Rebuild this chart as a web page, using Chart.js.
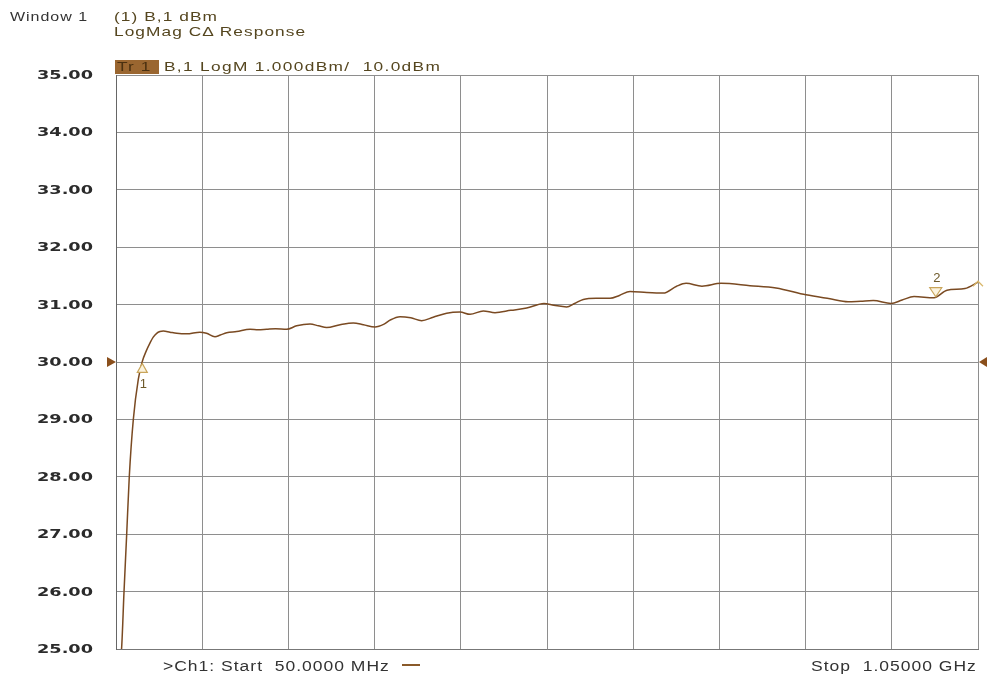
<!DOCTYPE html>
<html>
<head>
<meta charset="utf-8">
<script src="https://cdn.jsdelivr.net/npm/chart.js@4.4.1/dist/chart.umd.min.js"></script>
<style>
  body { margin: 0; background: #fff; }
  #wrap { position: relative; width: 987px; height: 677px; overflow: hidden; }
  .txt { position: absolute; font-family: "Liberation Sans", Arial, sans-serif; font-size: 13px; white-space: pre;
         letter-spacing: 0.8px; transform-origin: 0 0; transform: scaleX(1.33); }
  .hdr { color: #55461f; }
  .trbox { position: absolute; left: 115px; top: 60px; width: 44px; height: 14px; background: #9a6630; }
  .bot { font-size: 14px; color: #333; transform: scaleX(1.25); }
</style>
</head>
<body>
<div id="wrap">
  <canvas id="chart" width="987" height="677"></canvas>
  <div class="txt" style="left:10px; top:9px; color:#333; transform:scaleX(1.23);">Window 1</div>
  <div class="txt hdr" style="left:114px; top:9px;">(1) B,1 dBm</div>
  <div class="txt hdr" style="left:114px; top:24px;">LogMag CΔ Response</div>
  <div class="trbox"></div>
  <div class="txt" style="left:117px; top:59px; color:#4a3010;">Tr 1</div>
  <div class="txt hdr" style="left:164px; top:59px; letter-spacing:1px;">B,1 LogM 1.000dBm/  10.0dBm</div>
  <div class="txt bot" style="left:163px; top:658px;">&gt;Ch1: Start  50.0000 MHz</div>
  <div style="position:absolute; left:402px; top:664px; width:18px; height:2px; background:#8a5a2a;"></div>
  <div class="txt bot" style="left:811px; top:658px;">Stop  1.05000 GHz</div>
</div>
<script>
// trace readings (MHz / dBm)
const freqMHz = [54, 56.6, 59.3, 62.4, 65.4, 70.1, 75.9, 80.5, 85, 89.4, 93, 97.2, 101, 104.9,
  112.6, 120.4, 132, 147.4, 155, 164.8, 171, 178.4, 190, 205.5, 215, 224.8, 235, 248, 259.6,
  275.1, 285, 294.4, 310, 325.3, 337, 350.5, 361, 367.9, 379.5, 392, 404.6, 418, 433.6, 449.1,
  460.7, 476.1, 489.7, 508, 526.4, 546.5, 558, 572.8, 582, 592.1, 607, 623.1, 634, 646.3, 665.7,
  684.9, 700.4, 711.3, 729.8, 751.9, 785.5, 815.7, 850.5, 878.3, 899.2, 914, 928.5, 949.1, 962,
  975.8, 999, 1014, 1034.9, 1050];
const levelDbm = [24.7, 25.04, 26.0, 27.0, 28.0, 29.0, 29.7, 30.01, 30.19, 30.33, 30.43, 30.5, 30.53, 30.54,
  30.52, 30.5, 30.49, 30.52, 30.5, 30.44, 30.47, 30.51, 30.53, 30.57, 30.56, 30.57, 30.58, 30.57, 30.63,
  30.66, 30.63, 30.6, 30.65, 30.68, 30.65, 30.61, 30.66, 30.73, 30.79, 30.77, 30.72, 30.78, 30.85, 30.87,
  30.83, 30.89, 30.86, 30.9, 30.94, 31.02, 30.99, 30.96, 31.02, 31.09, 31.11, 31.11, 31.16, 31.23, 31.21,
  31.2, 31.32, 31.37, 31.32, 31.37, 31.33, 31.29, 31.17, 31.1, 31.05, 31.06, 31.07, 31.02, 31.08,
  31.14, 31.12, 31.25, 31.28, 31.39];

const yTicks = [25, 26, 27, 28, 29, 30, 31, 32, 33, 34, 35];
const freqGridMHz = [50, 150, 250, 350, 450, 550, 650, 750, 850, 950, 1050];
const refLevelDbm = 30;

const markerNames = ['1', '2'];
const markerFreqMHz = [80.5, 1001];
const markerLevelDbm = [30.01, 31.12];
const markerUp = [true, false];

const traceColor = '#7a4a22';
const gridColor = '#8e8e8e';

const overlay = {
  id: 'overlay',
  afterDraw(chart) {
    const ctx = chart.ctx;
    const xs = chart.scales.x, ys = chart.scales.y;
    const area = chart.chartArea;
    ctx.save();

    // y labels, stretched like the analyzer font
    ctx.font = 'bold 11.5px "DejaVu Sans", sans-serif';
    ctx.fillStyle = '#2b2b2b';
    ctx.textAlign = 'right';
    ctx.textBaseline = 'middle';
    yTicks.forEach(v => {
      ctx.save();
      ctx.translate(93, ys.getPixelForValue(v) + 1);
      ctx.scale(1.54, 1);
      ctx.fillText(v.toFixed(2), 0, 0);
      ctx.restore();
    });

    // reference level arrows
    const ry = ys.getPixelForValue(refLevelDbm);
    ctx.fillStyle = '#8a4f1c';
    ctx.beginPath();
    ctx.moveTo(area.left - 9, ry - 5); ctx.lineTo(area.left, ry); ctx.lineTo(area.left - 9, ry + 5);
    ctx.closePath(); ctx.fill();
    ctx.beginPath();
    ctx.moveTo(area.right + 9, ry - 5); ctx.lineTo(area.right + 1, ry); ctx.lineTo(area.right + 9, ry + 5);
    ctx.closePath(); ctx.fill();

    // markers
    ctx.strokeStyle = '#c9a55a';
    ctx.fillStyle = '#fbf3de';
    ctx.lineWidth = 1.2;
    ctx.font = '13px "Liberation Sans", Arial, sans-serif';
    ctx.textAlign = 'center';
    markerFreqMHz.forEach((f, i) => {
      const px = xs.getPixelForValue(f);
      const py = ys.getPixelForValue(markerLevelDbm[i]);
      ctx.beginPath();
      if (markerUp[i]) {
        ctx.moveTo(px, py + 2); ctx.lineTo(px - 5, py + 11); ctx.lineTo(px + 5, py + 11);
      } else {
        ctx.moveTo(px, py - 1); ctx.lineTo(px - 6, py - 10); ctx.lineTo(px + 6, py - 10);
      }
      ctx.closePath(); ctx.fill(); ctx.stroke();
      ctx.fillStyle = '#6e5a2a';
      ctx.fillText(markerNames[i], px + 1, markerUp[i] ? py + 23 : py - 19);
      ctx.fillStyle = '#fbf3de';
    });

    // active marker chevron at right edge
    const ex = xs.getPixelForValue(freqMHz[freqMHz.length - 1]);
    const ey = ys.getPixelForValue(levelDbm[levelDbm.length - 1]);
    ctx.strokeStyle = '#d9b76a';
    ctx.beginPath();
    ctx.moveTo(ex - 5, ey + 4); ctx.lineTo(ex, ey - 1); ctx.lineTo(ex + 5, ey + 4);
    ctx.stroke();

    ctx.restore();
  }
};

new Chart(document.getElementById('chart'), {
  type: 'line',
  data: {
    datasets: [{
      data: freqMHz.map((f, i) => ({ x: f, y: levelDbm[i] })),
      borderColor: traceColor,
      borderWidth: 1.5,
      pointRadius: 0,
      cubicInterpolationMode: 'monotone',
      fill: false
    }]
  },
  options: {
    responsive: false,
    animation: false,
    devicePixelRatio: 1,
    layout: { padding: { top: 75, right: 9, bottom: 28, left: 0 } },
    plugins: { legend: { display: false }, tooltip: { enabled: false } },
    scales: {
      x: {
        type: 'linear',
        min: 50,
        max: 1050,
        afterBuildTicks: s => { s.ticks = freqGridMHz.map(v => ({ value: v })); },
        afterFit: s => { s.height = 0; },
        ticks: { display: false },
        grid: { color: gridColor, lineWidth: 1, drawTicks: false },
        border: { display: true, color: '#777' }
      },
      y: {
        min: 25,
        max: 35,
        afterBuildTicks: s => { s.ticks = yTicks.map(v => ({ value: v })); },
        afterFit: s => { s.width = 116; },
        ticks: { display: false },
        grid: { color: gridColor, lineWidth: 1, drawTicks: false },
        border: { display: true, color: '#666' }
      }
    }
  },
  plugins: [overlay]
});
</script>
</body>
</html>
